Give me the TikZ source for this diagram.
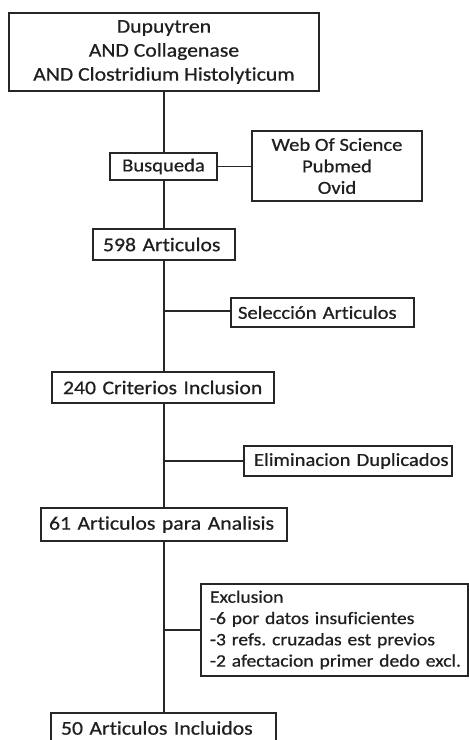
\documentclass[tikz,border=0pt]{standalone}
\usepackage{fontspec}
\setmainfont{Carlito}[FakeStretch=1.12,FakeBold=0.6,Ligatures=NoCommon]
\frenchspacing
\begin{document}
\begin{tikzpicture}[x=1pt,y=-1pt,
  every node/.style={text=black!88},
  box/.style={draw=black!85, line width=1.6pt, rectangle, inner ysep=0pt, fill=white},
  mainfont/.style={font=\fontsize{19.4}{24}\selectfont},
  sidefont/.style={font=\fontsize{18.4}{21.5}\selectfont},
  exclfont/.style={font=\fontsize{17.5}{21.3}\selectfont},
  link/.style={draw=black!85, line width=1.6pt}
]
\useasboundingbox (0,0) rectangle (469,740);
\coordinate (j1) at (164,311);
\coordinate (j2) at (164,461);
\coordinate (j3) at (164,630);

\node[box, mainfont, minimum width=310pt, minimum height=78pt, align=center] (top) at (164,52)
  {Dupuytren\\AND Collagenase\\AND Clostridium Histolyticum};
\node[box, sidefont, minimum width=107pt, minimum height=27pt, align=center] (bus) at (163.5,166.5) {Busqueda};
\node[box, sidefont, minimum width=170pt, minimum height=70pt, align=center] (web) at (337,166) {Web Of Science\\Pubmed\\Ovid};
\node[box, mainfont, inner xsep=10pt, text width=122pt, minimum height=31pt, align=left] (a598) at (164,244.5) {\mbox{598 Articulos}};
\node[box, sidefont, inner xsep=7pt, text width=169pt, minimum height=29pt, align=left] (sel) at (322.5,312.5) {\mbox{Selección Articulos}};
\node[box, mainfont, inner xsep=11pt, text width=200pt, minimum height=31pt, align=left] (c240) at (163,387.5) {\mbox{240 Criterios Inclusion}};
\node[box, sidefont, inner xsep=10pt, text width=188pt, minimum height=30pt, align=left] (elim) at (348,461) {\mbox{Eliminacion Duplicados}};
\node[box, mainfont, inner xsep=8pt, text width=230pt, minimum height=33pt, align=left] (a61) at (164,524.5) {\mbox{61 Articulos para Analisis}};
\node[box, exclfont, inner xsep=9pt, text width=249pt, minimum height=92pt, align=left] (excl) at (334.5,630)
  {\mbox{Exclusion}\\\mbox{-6 por datos insuficientes}\\\mbox{-3 refs. cruzadas est previos}\\\mbox{-2 afectacion primer dedo excl.}};
\node[box, mainfont, inner xsep=10pt, text width=205pt, minimum height=30pt, align=left] (a50) at (163.5,728) {\mbox{50 Articulos Incluidos}};

\draw[link] (top.south -| 164,0) -- (bus.north -| 164,0);
\draw[link] (bus.south -| 164,0) -- (a598.north -| 164,0);
\draw[link] (bus.east) -- (web.west |- bus.east);
\draw[link] (a598.south -| 164,0) -- (c240.north -| 164,0);
\draw[link] (j1) -- (j1 -| sel.west);
\draw[link] (c240.south -| 164,0) -- (a61.north -| 164,0);
\draw[link] (j2) -- (j2 -| elim.west);
\draw[link] (a61.south -| 164,0) -- (a50.north -| 164,0);
\draw[link] (j3) -- (j3 -| excl.west);
\end{tikzpicture}
\end{document}
